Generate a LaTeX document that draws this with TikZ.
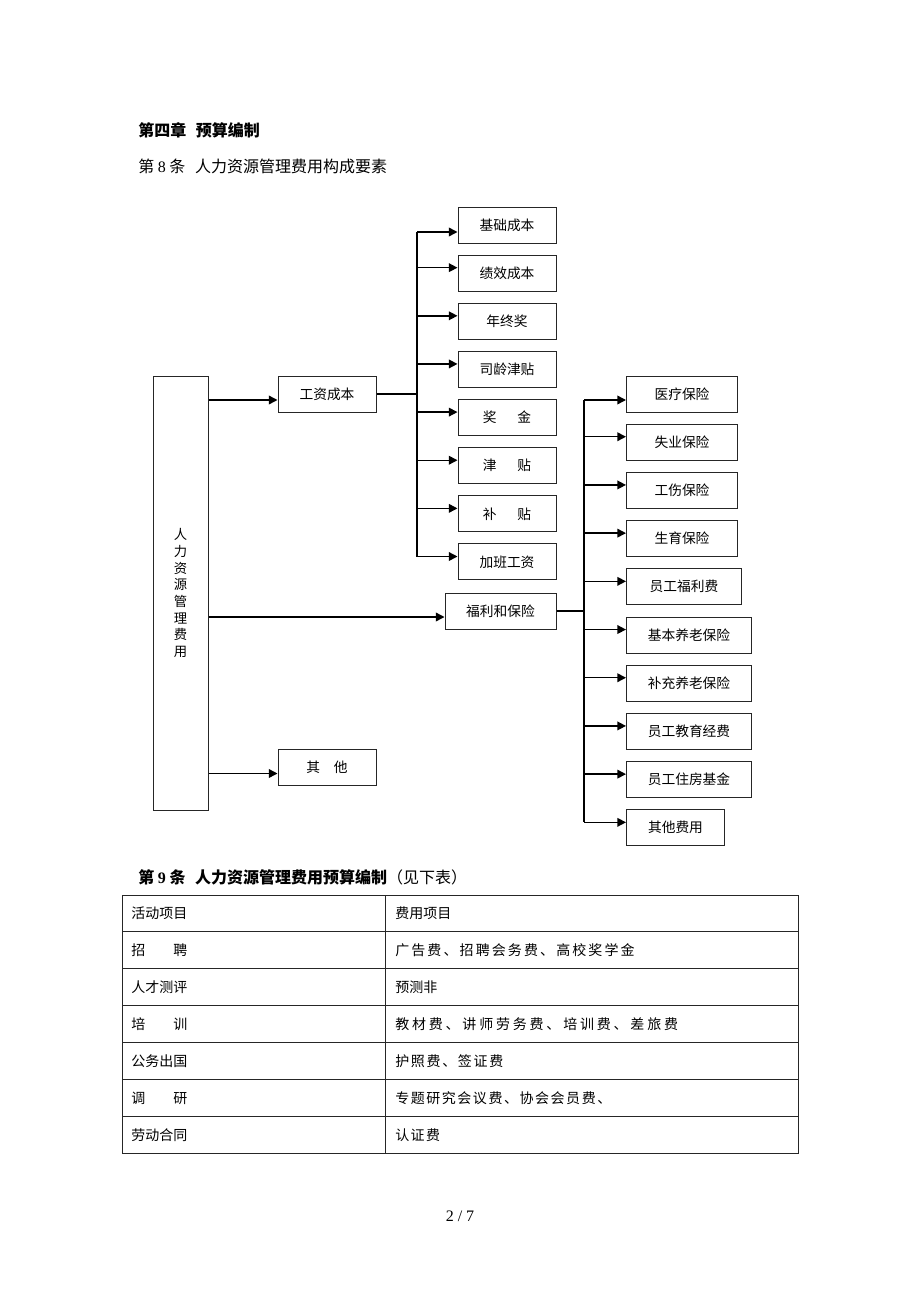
\documentclass[tikz,border=0pt]{standalone}
\usepackage{fontspec}
\setmainfont{Liberation Serif}
\newfontfamily\cjk{Noto Sans CJK SC}
\usepackage{tikz}
\usetikzlibrary{arrows.meta, positioning, calc}

\begin{document}
\begin{tikzpicture}[x=0.75pt, y=-0.75pt,
        box/.style={draw=black!85, line width=0.75pt, minimum height=27pt, inner sep=0pt, font=\cjk\fontsize{10.3}{12}\selectfont},
        link/.style={line width=0.9pt},
        arr/.style={line width=1.1pt, -{Triangle[length=6.5pt, width=6.5pt]}},
        cell/.style={anchor=west, inner sep=0pt, font=\cjk\fontsize{10.5}{12}\selectfont},
        head/.style={anchor=west, inner sep=0pt, font=\cjk\fontsize{12}{14}\selectfont},
        boldhead/.style={head, font=\cjk\bfseries\fontsize{12}{14}\selectfont}]

        \useasboundingbox (0,0) rectangle (920,1302);

        % Headings
        \node[boldhead] (chap) at (138,130) {第四章\hspace{0.6em}预算编制};
        \node[head] (art8) at (138,166) {第 {\rmfamily 8} 条\hspace{0.6em}人力资源管理费用构成要素};

        % Root box
        \node[box, minimum width=41.25pt, minimum height=325.5pt, align=center,
              font=\cjk\fontsize{10}{12.5}\selectfont] (hr) at (180.5,593) {人\\力\\资\\源\\管\\理\\费\\用};

        % Second level
        \node[box, minimum width=73.5pt] (wage) at (327,394) {工资成本};
        \node[box, minimum width=83.25pt] (welfare) at (500.5,611) {福利和保险};
        \node[box, minimum width=73.5pt] (other) at (327,767.5) {其\hspace{1em}他};

        \foreach \n in {wage, welfare, other} {
            \coordinate (\n-in) at ([yshift=-4.5pt]\n.west);
            \draw[arr] (hr.east |- \n-in) -- (\n-in);
        }

        % Wage items
        \coordinate (wbus) at (417,0);
        \foreach \txt [count=\i] in {基础成本, 绩效成本, 年终奖, 司龄津贴, 奖\hspace{1.5em}金, 津\hspace{1.5em}贴, 补\hspace{1.5em}贴, 加班工资} {
            \node[box, minimum width=73.5pt] (w\i) at (507,{176.86+48.14*\i}) {\txt};
            \ifnum\i=1 \def\dy{-5.25pt}\else \def\dy{4.1pt}\fi
            \coordinate (w\i-in) at ([yshift=\dy]w\i.west);
            \draw[arr] (wbus |- w\i-in) -- (w\i-in);
        }
        \draw[link] (wage.east) -- (wbus |- wage.east);
        \draw[link] (wbus |- w1-in) -- (wbus |- w8-in);

        % Welfare items
        \coordinate (bbus) at (584,0);
        \foreach \txt/\bw [count=\i] in {医疗保险/83.25, 失业保险/83.25, 工伤保险/83.25, 生育保险/83.25, 员工福利费/86.25,
                基本养老保险/93.75, 补充养老保险/93.75, 员工教育经费/93.75, 员工住房基金/93.75, 其他费用/73.5} {
            \node[box, anchor=west, minimum width=\bw pt] (b\i) at (626,{345.8+48.2*\i}) {\txt};
            \ifnum\i=1 \def\dy{-4.5pt}\else \def\dy{4.1pt}\fi
            \coordinate (b\i-in) at ([yshift=\dy]b\i.west);
            \draw[arr] (bbus |- b\i-in) -- (b\i-in);
        }
        \draw[link] (welfare.east) -- (bbus |- welfare.east);
        \draw[link] (bbus |- b1-in) -- (bbus |- b10-in);

        % Article 9
        \node[boldhead] (art9) at (138,877) {第 {\rmfamily\bfseries 9} 条\hspace{0.6em}人力资源管理费用预算编制{\mdseries （见下表）}};

        % Table
        \draw[line width=0.75pt, black!85] (122,895) rectangle (798,1153.3);
        \draw[line width=0.75pt, black!85] (385.5,895) -- (385.5,1153.3);
        \foreach \k in {1,...,6}
            \draw[line width=0.75pt, black!85] (122,{895+36.9*\k}) -- (798,{895+36.9*\k});
        \foreach \act/\cost/\ls [count=\r] in {活动项目/费用项目/0, 招\hspace{2em}聘/广告费、招聘会务费、高校奖学金/15,
                人才测评/预测非/0, 培\hspace{2em}训/教材费、讲师劳务费、培训费、差旅费/20, 公务出国/护照费、签证费/12,
                调\hspace{2em}研/专题研究会议费、协会会员费、/11, 劳动合同/认证费/10} {
            \node[cell] (act\r) at (131,{876.55+36.9*\r}) {\act};
            \node[cell] (cost\r) at (395,{876.55+36.9*\r}) {\addfontfeature{LetterSpace=\ls}\cost};
        }

        % Page number
        \node[font=\fontsize{12}{14}\selectfont, inner sep=0pt] (page) at (460,1216) {2 / 7};
    \end{tikzpicture}
\end{document}
